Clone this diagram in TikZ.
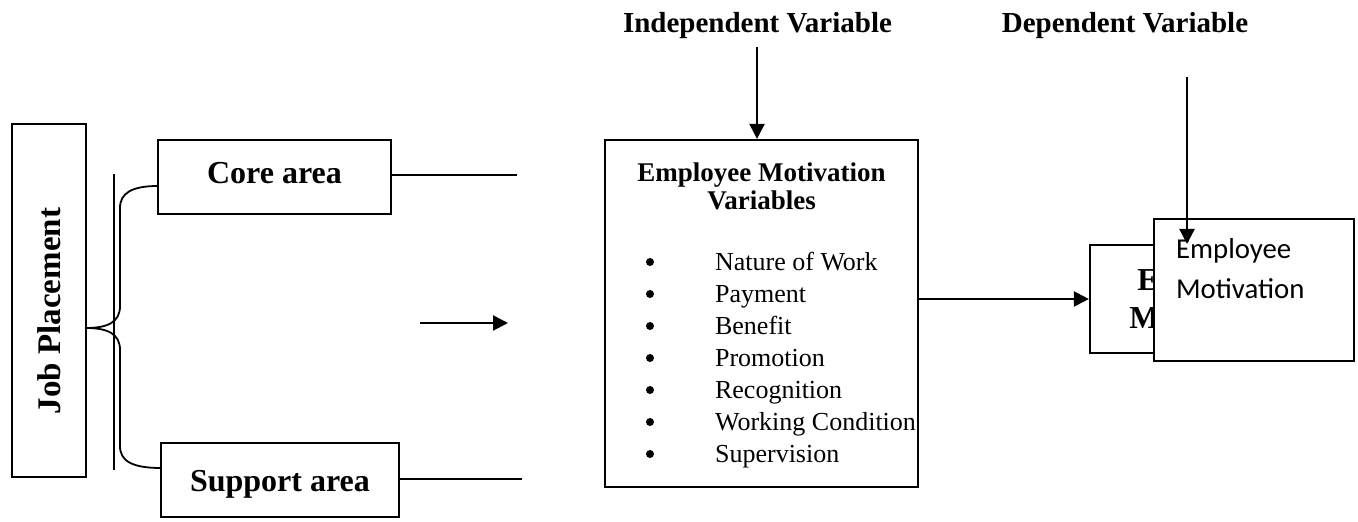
\documentclass[tikz,border=0pt]{standalone}
\usepackage{fontspec}
\setmainfont{Liberation Serif}
\newfontfamily\calibri{Carlito}
\usetikzlibrary{arrows.meta}

\begin{document}
\begin{tikzpicture}[x=0.5pt, y=-0.5pt, line width=1.1pt, >={Triangle[length=7.5pt,width=7.5pt]}]

  \tikzstyle{frame}=[draw, rectangle, inner sep=0pt]
  \tikzstyle{area}=[frame, font=\fontsize{16}{18}\selectfont\bfseries]
  \tikzstyle{head}=[font=\fontsize{14.5}{16}\selectfont\bfseries]
  \tikzstyle{item}=[anchor=west, inner sep=0pt, text height=9pt, text depth=3pt, font=\fontsize{13}{15}\selectfont]
  \tikzstyle{dot}=[circle, fill=black, inner sep=0pt, minimum size=4pt]

  \useasboundingbox (0,0) rectangle (1358,522);

  % Job placement
  \node[frame, minimum width=37pt, minimum height=176.5pt] (job) at (49,300.5) {};
  \node[rotate=90, font=\fontsize{16.5}{18}\selectfont\bfseries] (jobtext) at (49,311) {Job Placement};

  % Areas
  \node[area, minimum width=116.5pt, text height=22pt, text depth=15pt] (core) at (274.5,177) {Core area};
  \node[area, minimum width=119pt, text height=24.5pt, text depth=12.5pt] (support) at (280,480) {Support area};

  % Brace and bar
  \draw[line width=0.6pt] (114,174) -- (114,470);
  \draw[line width=0.9pt] (86,328) .. controls (108,328) and (120,322) .. (120,306) -- (120,208)
    .. controls (120,193) and (132,186) .. (158,186);
  \draw[line width=0.9pt] (86,328) .. controls (108,328) and (120,334) .. (120,350) -- (120,446)
    .. controls (120,461) and (132,468) .. (161,468);

  % Lines out of the areas
  \coordinate (coreend) at (517,175);
  \coordinate (suppend) at (522,479);
  \coordinate (midfrom) at (420,323);
  \coordinate (midto) at (508,323);
  \draw (core.east |- coreend) -- (coreend);
  \draw (support.east |- suppend) -- (suppend);
  \draw[->] (midfrom) -- (midto);

  % Variables
  \node[head] (iv) at (757.5,26) {Independent Variable};
  \node[head] (dv) at (1125,26) {Dependent Variable};
  \node[frame, minimum width=156.5pt, minimum height=173.5pt] (var) at (761.5,313.5) {};
  \node[align=center, font=\fontsize{13.5}{14}\selectfont\bfseries] (vartitle) at (761.5,186) {Employee Motivation\\Variables};
  \foreach \name [count=\i] in {Nature of Work, Payment, Benefit, Promotion, Recognition, Working Condition, Supervision} {
    \node[dot] (dot\i) at (650,230+32*\i) {};
    \node[item] (item\i) at (714,233+32*\i) {\name};
  }

  \coordinate (ivfrom) at (757,47);
  \draw[->] (ivfrom) -- (ivfrom |- var.north);

  % Motivation boxes
  \node[frame, minimum width=115pt, minimum height=54pt, align=center, font=\fontsize{16}{19}\selectfont\bfseries] (back) at (1205,299) {Employee\\Motivation};
  \node[frame, fill=white, line width=0.6pt, minimum width=100pt, minimum height=71pt] (front) at (1254,290) {};
  \node[anchor=base west, inner sep=0pt, font=\calibri\fontsize{14.4}{20}\selectfont] (front1) at (1175,259) {Employee};
  \node[anchor=base west, inner sep=0pt, font=\calibri\fontsize{14.4}{20}\selectfont] (front2) at (1175,299) {Motivation};

  \draw[->] (var.east |- back.west) -- (back.west);

  \coordinate (dvfrom) at (1187,77);
  \coordinate (dvto) at (1187,244);
  \draw[->] (dvfrom) -- (dvto);

\end{tikzpicture}
\end{document}
